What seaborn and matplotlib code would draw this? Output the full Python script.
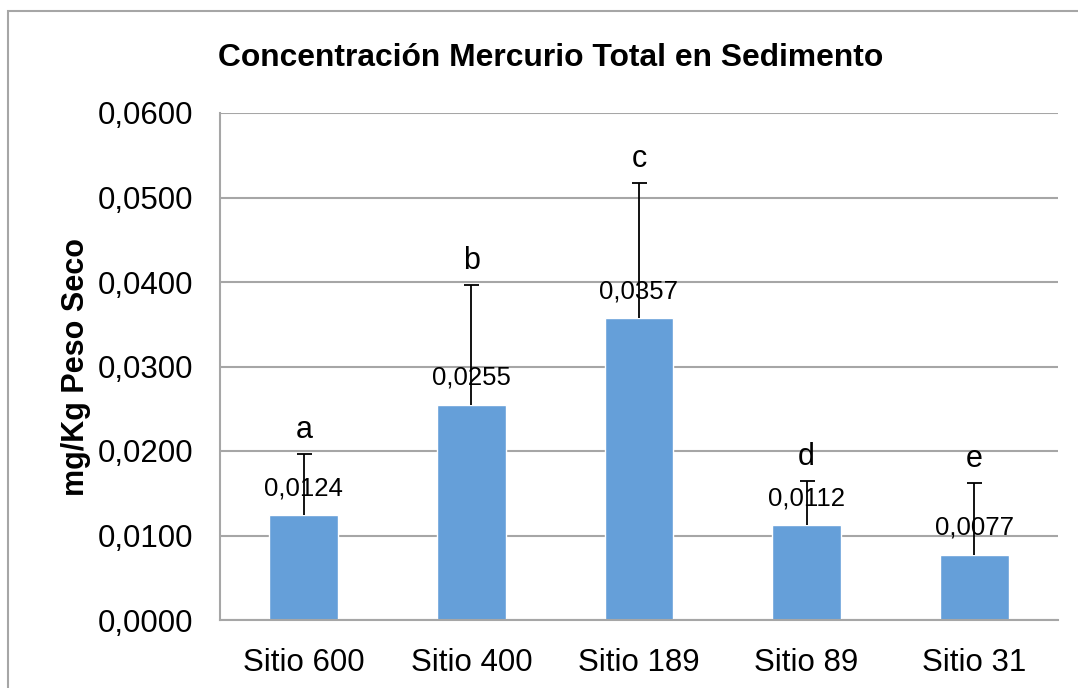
import matplotlib
matplotlib.use("Agg")
import matplotlib.pyplot as plt
import seaborn as sns
import pandas as pd
from matplotlib.patches import Rectangle
from matplotlib.ticker import FuncFormatter

sitios = ["Sitio 600", "Sitio 400", "Sitio 189", "Sitio 89", "Sitio 31"]
hg_total = [0.0124, 0.0255, 0.0357, 0.0112, 0.0077]
hg_error = [0.0072, 0.0141, 0.0160, 0.0052, 0.0085]
letras = ["a", "b", "c", "d", "e"]

sns.set_style("white")
plt.rcParams["font.family"] = ["Liberation Sans", "DejaVu Sans"]
plt.rcParams["text.color"] = "black"
plt.rcParams["xtick.color"] = "black"
plt.rcParams["ytick.color"] = "black"
plt.rcParams["axes.labelcolor"] = "black"

df = pd.DataFrame({"sitio": sitios, "hg": hg_total})

fig = plt.figure(figsize=(10.78, 6.88), dpi=100)
ax = fig.add_axes([220 / 1078, 1 - 620 / 688, 838 / 1078, 507 / 688])

sns.barplot(data=df, x="sitio", y="hg", color="#659FD9", saturation=1,
            width=0.41, errorbar=None, ax=ax, zorder=2)

# solo barra de error superior
xs = list(range(len(sitios)))
eb = ax.errorbar(xs, hg_total, yerr=[[0] * len(hg_error), hg_error],
                 fmt="none", ecolor="black", elinewidth=1.3, capsize=5.4,
                 capthick=1.3, zorder=4)
eb[1][0].set_visible(False)

for i in xs:
    ax.annotate(f"{hg_total[i]:.4f}".replace(".", ","), (i, hg_total[i]),
                xytext=(0, 14.4), textcoords="offset points",
                ha="center", va="baseline", fontsize=18.5, zorder=3)
    ax.annotate(letras[i], (i, hg_total[i] + hg_error[i]),
                xytext=(0, 11.5), textcoords="offset points",
                ha="center", va="baseline", fontsize=22, zorder=3)

ax.set_ylim(0, 0.06)
ax.set_xlim(-0.5, 4.5)
ax.set_yticks([0, 0.01, 0.02, 0.03, 0.04, 0.05, 0.06])
ax.yaxis.set_major_formatter(FuncFormatter(lambda v, p: f"{v:.4f}".replace(".", ",")))
ax.tick_params(axis="both", labelsize=22.5, length=0)
ax.tick_params(axis="y", pad=19.5)
ax.tick_params(axis="x", pad=20.5)
ax.yaxis.grid(True, color="#A6A6A6", linewidth=1.5, zorder=0)
ax.set_axisbelow(True)
ax.set_xlabel("")
ax.set_ylabel("mg/Kg Peso Seco", fontsize=22, fontweight="bold", labelpad=4.5)

for s in ["top", "right"]:
    ax.spines[s].set_visible(False)
for s in ["left", "bottom"]:
    ax.spines[s].set_color("#A6A6A6")
    ax.spines[s].set_linewidth(1.5)

fig.text(551 / 1078, 1 - 58 / 688, "Concentración Mercurio Total en Sedimento",
         ha="center", va="center", fontsize=22.9, fontweight="bold")

fig.patches.append(Rectangle((8 / 1078, -0.2), 1.2, 1.2 - 11 / 688,
                             transform=fig.transFigure, fill=False,
                             edgecolor="#A6A6A6", linewidth=1.5))

fig.savefig("out.png", dpi=100)
